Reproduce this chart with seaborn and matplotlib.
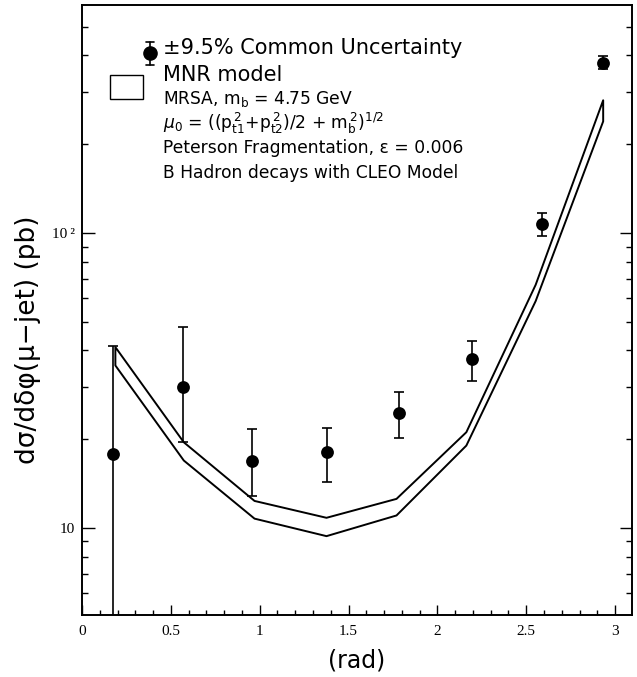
import numpy as np
import pandas as pd
import matplotlib
matplotlib.use("Agg")
import matplotlib.pyplot as plt
import seaborn as sns
from matplotlib.ticker import MultipleLocator, FixedLocator, FixedFormatter, LogLocator, NullFormatter
from matplotlib.patches import Rectangle
from matplotlib.lines import Line2D

# ---- data ----
phi = [0.173, 0.567, 0.958, 1.377, 1.786, 2.193, 2.590, 2.934]
xsec = [17.8, 30.0, 16.9, 18.1, 24.6, 37.4, 107.4, 378.0]
err_hi = [41.4, 48.1, 21.6, 21.9, 28.8, 43.1, 116.7, 398.0]
err_lo = [1.0, 19.5, 12.8, 14.3, 20.2, 31.5, 97.7, 360.0]

model_phi = [0.185, 0.570, 0.968, 1.373, 1.767, 2.160, 2.550, 2.930]
model_upper = [41.2, 19.6, 12.4, 10.87, 12.6, 21.2, 67.0, 283.0]
model_lower = [35.7, 17.0, 10.8, 9.42, 11.07, 19.1, 59.0, 240.0]

xtick_vals = [0, 0.5, 1, 1.5, 2, 2.5, 3]
xtick_labels = ["0", "0.5", "1", "1.5", "2", "2.5", "3"]
ytick_vals = [10, 100]
ytick_labels = ["10", "10\u2009\u00b2"]

df = pd.DataFrame({"phi": phi, "xsec": xsec})

sns.set_style("ticks")
plt.rcParams["font.family"] = ["DejaVu Sans"]
for k in ["text.color", "axes.labelcolor", "xtick.color", "ytick.color", "axes.edgecolor"]:
    plt.rcParams[k] = "black"

fig = plt.figure(figsize=(6.37, 6.77), dpi=100)
ax = fig.add_axes([82/637, 1-615/677, (632-82)/637, 610/677])

ax.set_yscale("log")
ax.set_xlim(0, 3.095)
ax.set_ylim(5.07, 593)

# model band
ax.fill_between(model_phi, model_lower, model_upper, facecolor="white",
                edgecolor="black", linewidth=1.4, zorder=2)

# data error bars and points
y = np.array(xsec)
yerr = [y - np.array(err_lo), np.array(err_hi) - y]
ax.errorbar(phi, xsec, yerr=yerr, fmt="none", ecolor="black",
            elinewidth=1.2, capsize=3.3, capthick=1.2, zorder=3)
sns.scatterplot(data=df, x="phi", y="xsec", ax=ax, color="black", s=85,
                edgecolor="black", linewidth=0, zorder=4, legend=False)

# ticks
ax.xaxis.set_major_locator(FixedLocator(xtick_vals))
ax.xaxis.set_major_formatter(FixedFormatter(xtick_labels))
ax.xaxis.set_minor_locator(MultipleLocator(0.1))
ax.yaxis.set_major_locator(FixedLocator(ytick_vals))
ax.yaxis.set_major_formatter(FixedFormatter(ytick_labels))
ax.yaxis.set_minor_locator(LogLocator(base=10, subs=np.arange(2, 10)))
ax.yaxis.set_minor_formatter(NullFormatter())
ax.tick_params(which="both", direction="in", top=False, right=True, width=1.0)
ax.tick_params(which="major", axis="x", length=7)
ax.tick_params(which="minor", axis="x", length=3.5)
ax.tick_params(which="major", axis="y", length=9)
ax.tick_params(which="minor", axis="y", length=4.5)
for lab in ax.get_xticklabels() + ax.get_yticklabels():
    lab.set_fontfamily("Liberation Serif")
    lab.set_fontsize(11)
ax.tick_params(axis="x", pad=7)
ax.tick_params(axis="y", pad=5)
for s in ax.spines.values():
    s.set_linewidth(1.4)
    s.set_color("black")

ax.set_xlabel("(rad)", fontsize=17, labelpad=8)
ax.set_ylabel("d\u03c3/d\u03b4\u03c6(\u03bc\u2212jet) (pb)", fontsize=19)
ax.yaxis.set_label_coords(-0.074, 0.452)

# legend (manual)
tr = ax.transAxes
def fx(px):
    return (px - 82) / 550
def fy(py):
    return (615 - py) / 610

ax.add_line(Line2D([fx(150), fx(150)], [fy(42), fy(65)], color="black", lw=1.2, transform=tr))
ax.add_line(Line2D([fx(146), fx(154)], [fy(42), fy(42)], color="black", lw=1.2, transform=tr))
ax.add_line(Line2D([fx(146), fx(154)], [fy(65), fy(65)], color="black", lw=1.2, transform=tr))
ax.add_line(Line2D([fx(150)], [fy(53)], marker="o", ms=9.5, color="black", transform=tr))
ax.add_patch(Rectangle((fx(110), fy(99)), fx(143) - fx(110), fy(75) - fy(99),
                       facecolor="white", edgecolor="black", lw=1.0, transform=tr))

ax.text(fx(163), fy(48), "\u00b19.5% Common Uncertainty", fontsize=15,
        va="center", ha="left", transform=tr)
ax.text(fx(163), fy(75), "MNR model", fontsize=15, va="center", ha="left", transform=tr)
sub = [
    r"MRSA, m$_\mathrm{b}$ = 4.75 GeV",
    r"$\mu_0$ = (($\mathrm{p}_{\mathrm{t1}}^{\,2}$+$\mathrm{p}_{\mathrm{t2}}^{\,2}$)/2 + m$_\mathrm{b}^{\,2}$)$^{1/2}$",
    "Peterson Fragmentation, \u03b5 = 0.006",
    "B Hadron decays with CLEO Model",
]
for i, t in enumerate(sub):
    ax.text(fx(163), fy(99 + 24.5 * i), t, fontsize=12.3, va="center", ha="left", transform=tr)

fig.savefig("out.png", dpi=100)
